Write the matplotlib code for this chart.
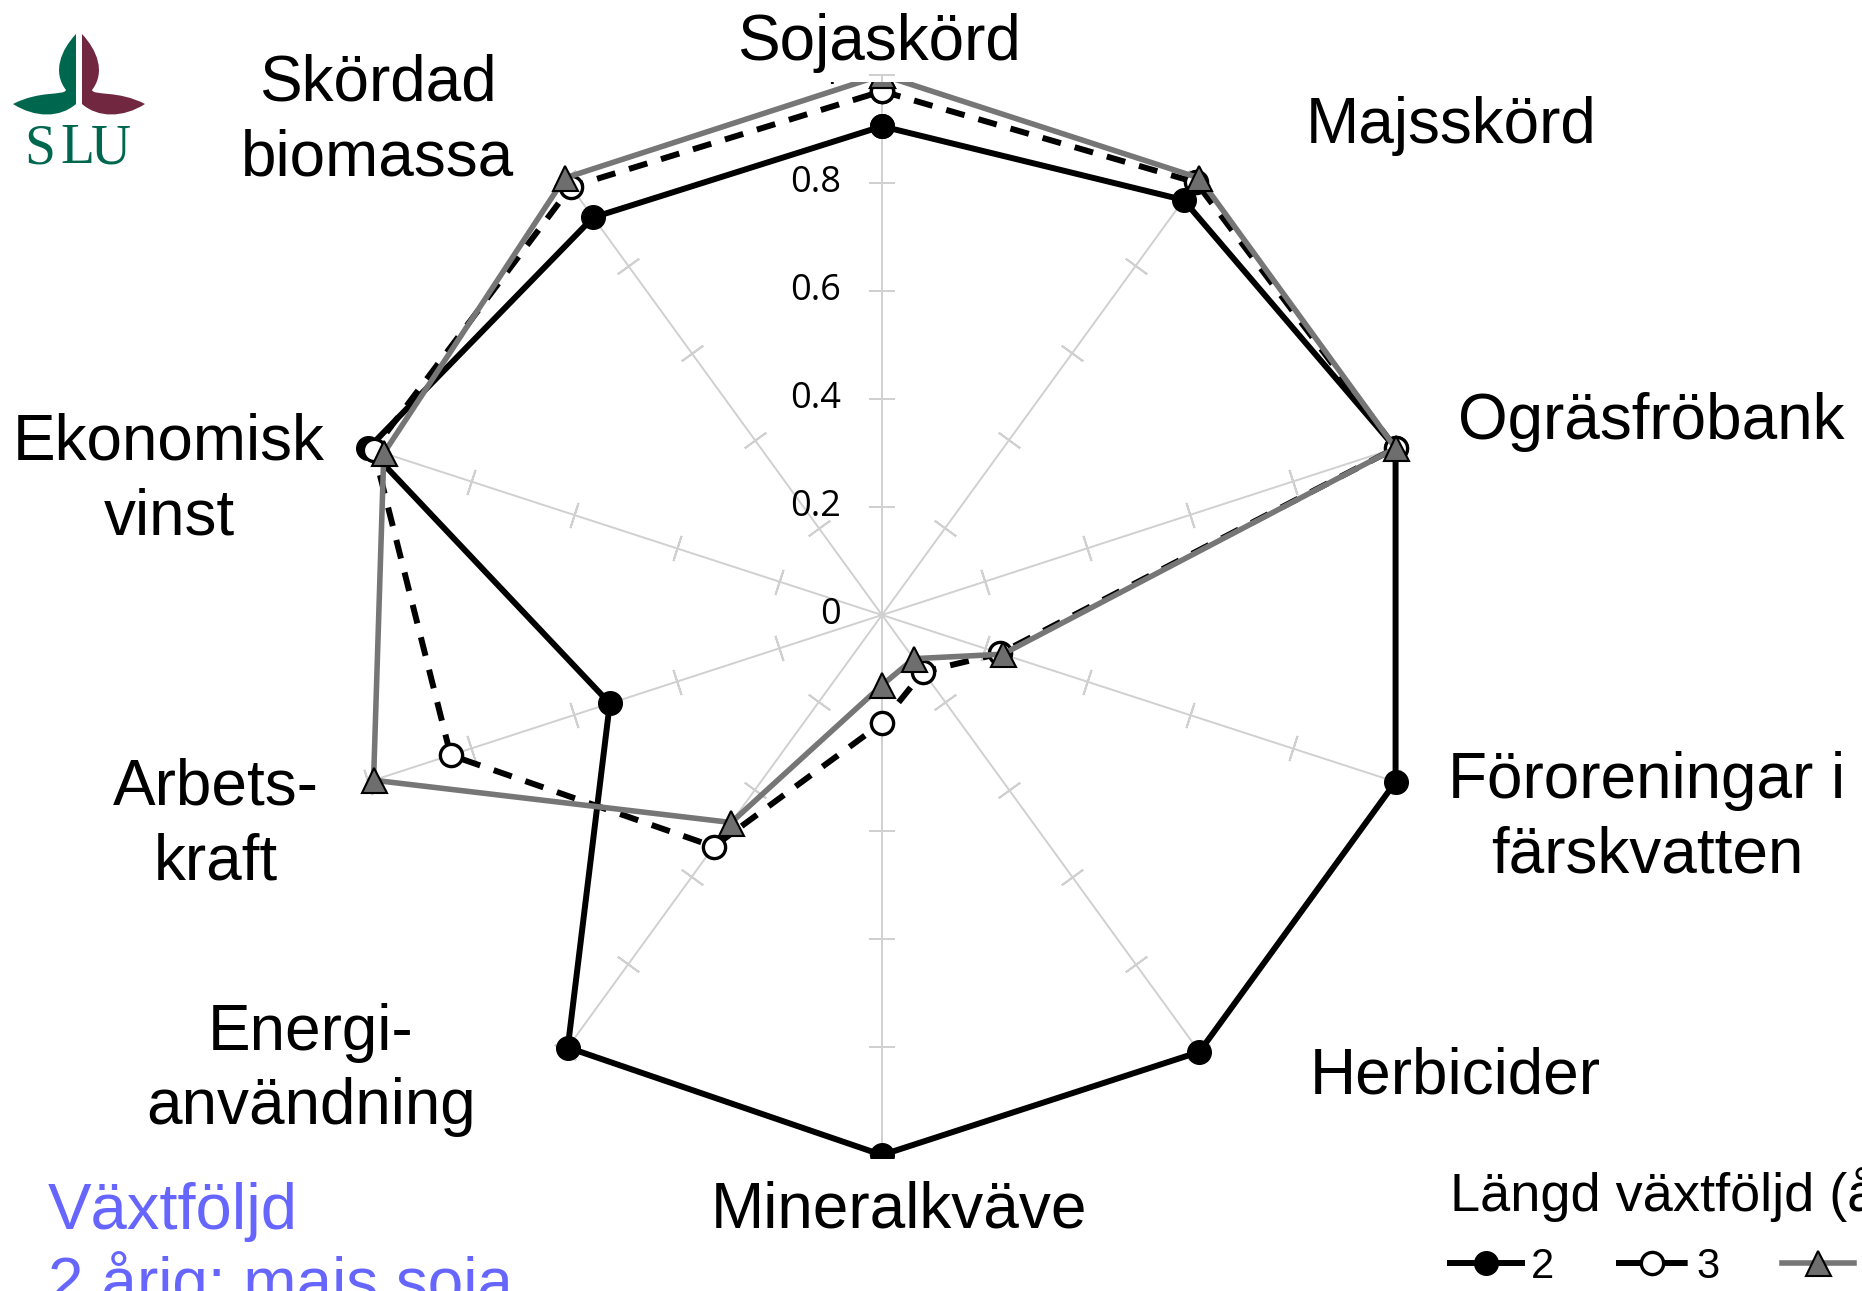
import numpy as np
import matplotlib
matplotlib.use("Agg")
import matplotlib.pyplot as plt
from matplotlib.lines import Line2D
from matplotlib.path import Path
from matplotlib.patches import PathPatch
from matplotlib.transforms import Bbox, TransformedBbox

W, H = 1862, 1291

CATEGORIES = ["Sojaskörd", "Majsskörd", "Ogräsfröbank", "Föroreningar i\nfärskvatten",
              "Herbicider", "Mineralkväve", "Energi-\nanvändning", "Arbets-\nkraft",
              "Ekonomisk\nvinst", "Skördad\nbiomassa"]
ROT_2 = [0.905, 0.95, 1.0, 1.0, 1.0, 1.0, 0.99, 0.53, 1.0, 0.91]
ROT_3 = [0.97, 0.99, 1.0, 0.23, 0.13, 0.20, 0.53, 0.84, 0.99, 0.98]
ROT_4 = [1.0, 1.0, 1.0, 0.235, 0.10, 0.13, 0.475, 0.99, 0.97, 1.0]
SERIES_LABELS = ["2", "3", "4"]
R_TICKS = [0, 0.2, 0.4, 0.6, 0.8, 1.0]
R_TICK_LABELS = ["0", "0.2", "0.4", "0.6", "0.8", "1"]

# label anchor positions in pixels (x, y from top)
LABEL_POS = [(879, 43), (1451, 126), (1651, 422), (1647, 818), (1455, 1077),
             (899, 1211), (311, 1070), (216, 825), (169, 480), (378, 121)]

SANS = ["Liberation Sans", "DejaVu Sans"]


def px(x, y):
    return x / W, 1 - y / H


fig = plt.figure(figsize=(W / 100, H / 100), dpi=100)
fig.patch.set_facecolor("white")

cx, cy, R = 882, 615, 540
ax = fig.add_axes([(cx - R) / W, (H - cy - R) / H, 2 * R / W, 2 * R / H], projection="polar")
ax.set_theta_zero_location("N")
ax.set_theta_direction(-1)
ax.set_ylim(0, 1)
ax.grid(False)
ax.set_xticks([])
ax.set_yticks([])
ax.spines["polar"].set_visible(False)
ax.patch.set_visible(False)

# the chart picture is cropped top/bottom/left
clip = TransformedBbox(Bbox.from_extents(345 / W, 1 - 1158 / H, 1.0, 1 - 82 / H), fig.transFigure)

n = len(CATEGORIES)
theta = np.arange(n) * 2 * np.pi / n

# spokes + small tick marks
for t in theta:
    ax.plot([t, t], [0, 1], color="#d0d0d0", lw=1.4, zorder=1, clip_on=False)
    ang = 90 - np.degrees(t)
    ax.plot([t] * 5, R_TICKS[1:], ls="none", marker=(2, 2, ang), ms=19,
            mec="#d0d0d0", mew=1.4, zorder=1, clip_on=False)

for r, lab in zip(R_TICKS, R_TICK_LABELS):
    a = ax.annotate(lab, xy=(0, r), xytext=(-29.5, 0), textcoords="offset points",
                    ha="right", va="center", fontsize=26, family=["Open Sans", "DejaVu Sans"],
                    annotation_clip=False)
    a.set_clip_box(clip)
    a.set_clip_on(True)

tc = np.append(theta, theta[0])
styles = [
    dict(color="black", lw=4.3, marker="o", ms=17, mfc="black", mec="black", zorder=3),
    dict(color="black", lw=4.3, dashes=(3.2, 2.4), marker="o", ms=16, mfc="white",
         mec="black", mew=2.4, zorder=4),
    dict(color="#767676", lw=4.0, marker="^", ms=18, mfc="#6e6e6e", mec="black",
         mew=1.5, zorder=5),
]
for vals, st, lab in zip([ROT_2, ROT_3, ROT_4], styles, SERIES_LABELS):
    (ln,) = ax.plot(tc, np.append(vals, vals[0]), label=lab, clip_on=True, **st)
    ln.set_clip_path(None)
    ln.set_clip_box(clip)

# legend samples: the dashed one shows a dash on each side of the marker
leg_styles = [dict(styles[0]), dict(styles[1]), dict(styles[2])]
leg_styles[1]["dashes"] = (5.5, 1.0)
handles = [Line2D([], [], **{k: v for k, v in st.items() if k != "zorder"}) for st in leg_styles]

for lab, (x, y) in zip(CATEGORIES, LABEL_POS):
    fig.text(*px(x, y), lab, ha="center", va="center", fontsize=46, family=SANS,
             linespacing=1.3)

leg = fig.legend(handles, SERIES_LABELS, ncol=3, title="Längd växtföljd (år)",
                 loc="upper left", bbox_to_anchor=px(1450, 1167), frameon=False,
                 handlelength=1.73, handletextpad=0.2,
                 columnspacing=1.5, borderpad=0, borderaxespad=0, labelspacing=0.6,
                 alignment="left", prop={"family": SANS, "size": 30})
leg.get_title().set_family(SANS)
leg.get_title().set_fontsize(39)

# bottom-left note, partly cut by the picture edge
NOTE_COLOR = "#6666ff"
fig.text(*px(48, 1229), "Växtföljd", ha="left", va="baseline", fontsize=47,
         family=["Liberation Sans Narrow", "Liberation Sans"], color=NOTE_COLOR)
fig.text(*px(48, 1303), "2 årig: majs soja", ha="left", va="baseline", fontsize=46,
         family=["Liberation Sans Narrow", "Liberation Sans"], color=NOTE_COLOR)

# SLU logo
lax = fig.add_axes([0, 0, 1, 1])
lax.set_xlim(0, W)
lax.set_ylim(H, 0)
lax.axis("off")
lax.patch.set_visible(False)

green = [(76, 34), (61, 50), (52, 72), (66, 90), (64, 96), (40, 90), (13, 104),
         (35, 118), (60, 118), (76, 104), (76, 34)]
codes = [Path.MOVETO] + [Path.CURVE4] * 9 + [Path.CLOSEPOLY]
lax.add_patch(PathPatch(Path(green, codes), fc="#00674f", ec="none"))
maroon = [(158 - x, y) for x, y in green]
lax.add_patch(PathPatch(Path(maroon, codes), fc="#722740", ec="none"))
for letter, lx in zip("SLU", [40, 77, 111]):
    lax.text(lx, 163, letter, ha="center", va="baseline", fontsize=40,
             family=["Liberation Serif", "DejaVu Serif"], color="#00674f")

fig.savefig("out.png", dpi=100)
